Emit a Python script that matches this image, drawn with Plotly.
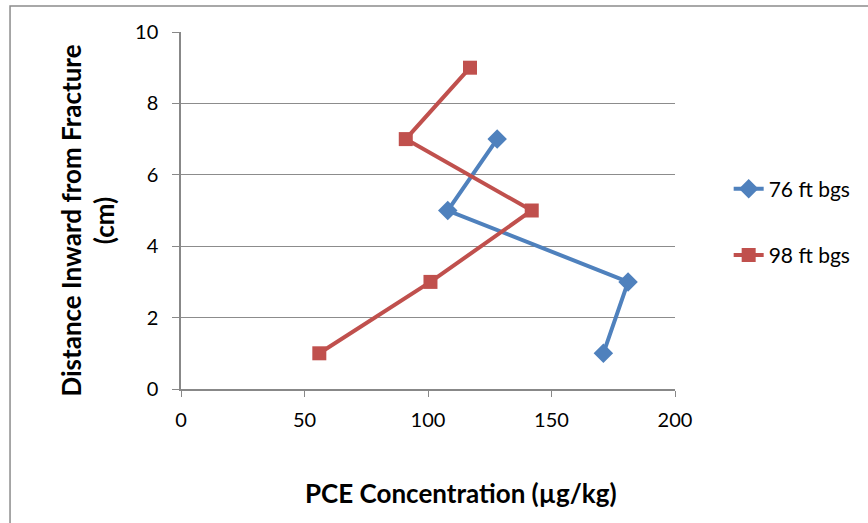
import plotly.graph_objects as go

x_76 = [171, 181, 108, 128]
y_76 = [1, 3, 5, 7]
x_98 = [56, 101, 142, 91, 117]
y_98 = [1, 3, 5, 7, 9]
names = ["76 ft bgs", "98 ft bgs"]

FONT = "Lato, Open Sans, sans-serif"
fig = go.Figure()
fig.add_trace(go.Scatter(x=x_76, y=y_76, mode="lines+markers", name=names[0],
                         legendgroup="a",
                         line=dict(color="#4F81BD", width=4),
                         marker=dict(symbol="diamond", size=15, color="#4F81BD")))
fig.add_trace(go.Scatter(x=x_98, y=y_98, mode="lines+markers", name=names[1],
                         legendgroup="b",
                         line=dict(color="#C0504D", width=4),
                         marker=dict(symbol="square", size=14, color="#C0504D")))

fig.update_layout(
    width=868, height=523,
    margin=dict(l=181, r=190, t=32, b=134),
    paper_bgcolor="white", plot_bgcolor="white",
    font=dict(family=FONT, size=20, color="black"),
    showlegend=True,
    legend=dict(x=(732-181)/497, y=(389-222)/357, xanchor="left", yanchor="middle",
                traceorder="grouped", tracegroupgap=36,
                font=dict(size=21, family=FONT)),
    xaxis=dict(range=[0, 200], dtick=50, showgrid=False, showline=True,
               linecolor="#888888", linewidth=1.5, ticks="outside", ticklen=6,
               tickcolor="#888888", zeroline=False, tickfont=dict(size=20),
               ticklabelstandoff=6),
    yaxis=dict(range=[0, 10], dtick=2, showgrid=True, gridcolor="#8c8c8c",
               gridwidth=1.3, showline=True, linecolor="#888888", linewidth=1.5,
               ticks="outside", ticklen=7, tickcolor="#888888", zeroline=False,
               tickfont=dict(size=20), ticklabelstandoff=10),
    shapes=[dict(type="rect", xref="paper", yref="paper",
                 x0=-172/497, x1=1.5, y0=-0.6, y1=(389-6)/357,
                 line=dict(color="#8c8c8c", width=1.5), fillcolor="rgba(0,0,0,0)")],
    annotations=[
        dict(text="<b>PCE Concentration (µg/kg)</b>", xref="paper", yref="paper",
             x=(463-181)/497, y=-(493-389)/357, xanchor="center", yanchor="middle",
             showarrow=False, font=dict(size=26, family=FONT)),
        dict(text="<b>Distance Inward from Fracture<br>(cm)</b>", xref="paper", yref="paper",
             x=-(181-87)/497, y=(389-221)/357, xanchor="center", yanchor="middle",
             textangle=-90, showarrow=False, font=dict(size=26, family=FONT)),
    ],
)
fig.write_html("out.html")
